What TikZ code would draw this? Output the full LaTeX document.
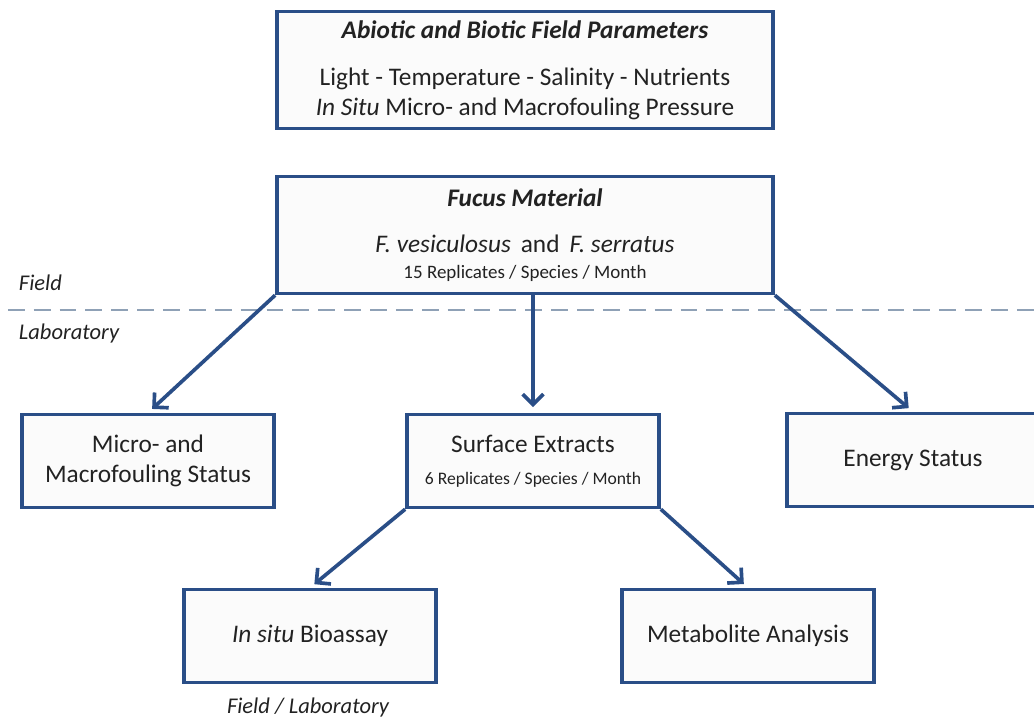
\documentclass[tikz,border=0pt]{standalone}
\usepackage{fontspec}
\setmainfont{Carlito}
\usepackage{xcolor}
\usepackage{tikz}
\usetikzlibrary{arrows.meta, positioning, calc}
\definecolor{azul}{HTML}{2A4E87}
\definecolor{linea}{HTML}{8FA1B6}
\definecolor{fondo}{HTML}{FBFBFB}
\definecolor{texto}{HTML}{222222}
\newcommand{\chico}{\fontsize{13.5}{15}\selectfont}
\tikzset{
  caja/.style={rectangle, draw=azul, line width=2.6pt, fill=fondo,
    align=center, text=texto, font=\fontsize{18}{21.5}\selectfont,
    minimum width=6.3cm, minimum height=2.32cm, inner sep=0pt},
  grande/.style={caja, minimum width=12.4cm, minimum height=2.92cm},
  etiqueta/.style={font=\fontsize{16}{18}\selectfont\itshape, text=texto},
  flecha/.style={-{Straight Barb[length=2.6mm, width=5.2mm, line width=2.6pt]},
    line width=2.6pt, azul, shorten >=4pt},
  division/.style={linea, line width=2pt, dash pattern=on 12pt off 6.4pt,
    dash phase=-5.6pt}
}

\begin{document}
\begin{tikzpicture}[x=0.025cm, y=-0.025cm]
  \useasboundingbox (0,0) rectangle (1034,718);

  % --- Field / Laboratory ---
  \coordinate (izq) at (0,310);
  \coordinate (der) at (1034,310);
  \draw[division] (izq) -- (der);
  \node[etiqueta, anchor=west] (campo) at (14,283) {Field};
  \node[etiqueta, anchor=west] (lab) at (14,333) {Laboratory};

  % --- Parametros y material ---
  \node[grande] (param) at (525,70)
    {\textbf{\textit{Abiotic and Biotic Field Parameters}}\\[12pt]
     Light - Temperature - Salinity - Nutrients\\
     \textit{In Situ} Micro- and Macrofouling Pressure};
  \node[grande] (fucus) at (525,235)
    {\textbf{\textit{Fucus Material}}\\[11pt]
     \textit{F. vesiculosus}\, and\, \textit{F. serratus}\\[-3pt]
     {\chico 15 Replicates / Species / Month}};

  % --- Laboratorio ---
  \node[caja] (micro) at (148,461) {Micro- and\\ Macrofouling Status};
  \node[caja] (surf) at (533,461)
    {Surface Extracts\\[1pt] {\fontsize{12.5}{15}\selectfont 6 Replicates / Species / Month}};
  \node[caja] (energia) at (913,460) {Energy Status};

  % --- Ensayos ---
  \node[caja] (ensayo) at (310,636) {\textit{In situ} Bioassay};
  \node[caja] (metab) at (748,636) {Metabolite Analysis};
  \node[etiqueta] (ambos) at (308,707) {Field / Laboratory};

  \draw[flecha] (fucus.south west) -- (micro.north);
  \draw[flecha] (fucus.south -| surf.north) -- (surf.north);
  \draw[flecha] (fucus.south east) -- (energia.north);
  \draw[flecha] (surf.south west) -- (ensayo.north);
  \draw[flecha] (surf.south east) -- (metab.north);

\end{tikzpicture}
\end{document}
